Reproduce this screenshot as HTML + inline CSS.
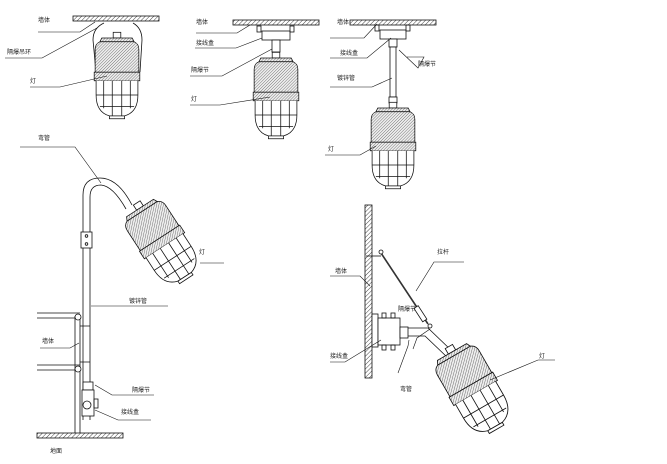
<!DOCTYPE html>
<html><head><meta charset="utf-8"><style>
html,body{margin:0;padding:0;background:#fff}
svg{display:block}
text{font-family:"Liberation Sans","Noto Sans CJK SC",sans-serif;font-size:6px;fill:#222}
</style></head><body>
<svg width="667" height="464" viewBox="0 0 667 464" xmlns="http://www.w3.org/2000/svg">
<defs>
<pattern id="h" width="3" height="3" patternUnits="userSpaceOnUse" patternTransform="rotate(45)">
<rect width="3" height="3" fill="#fff"/><line x1="0" y1="0" x2="0" y2="3" stroke="#444" stroke-width="1"/></pattern>
<pattern id="hd" width="2.2" height="2.2" patternUnits="userSpaceOnUse" patternTransform="rotate(45)">
<rect width="2.2" height="2.2" fill="#eee"/><line x1="0" y1="0" x2="0" y2="2.2" stroke="#555" stroke-width="0.8"/></pattern>
<g id="lamp" stroke="#111" stroke-width="0.8" fill="none">
<rect x="-4" y="-6" width="8" height="6" fill="#fff"/>
<path d="M-16,0 L16,0 L18,4 L-18,4 Z" fill="url(#hd)"/>
<path d="M-18,4 L18,4 Q23,6 23,12 L23,36 L-23,36 L-23,12 Q-23,6 -18,4 Z" fill="url(#hd)"/>
<rect x="-24" y="36" width="48" height="9" fill="url(#hd)"/>
<path d="M-22,45 L-22,60 Q-22,78 -8,82 L8,82 Q22,78 22,60 L22,45" fill="#fff"/>
<path d="M-14,45 L-14,74 M-5,45 L-5,82 M5,45 L5,82 M14,45 L14,74 M-22,60 L22,60 M-18,72 L18,72"/>
<rect x="-8" y="82" width="16" height="3" fill="#fff"/>
</g>
</defs>
<g stroke="#111" stroke-width="0.8" fill="none">
<rect x="73" y="16" width="86" height="5" fill="url(#h)"/>
<path d="M96,72 L93,40 Q93,28 104,23 M140,72 L142,40 Q142,28 133,23"/>
<use href="#lamp" transform="translate(117,38) scale(0.95)"/>
<rect x="233" y="20" width="86" height="5" fill="url(#h)"/>
<rect x="262" y="31" width="28" height="9" fill="#fff"/>
<rect x="257" y="26" width="4" height="6"/><rect x="290" y="26" width="4" height="6"/>
<rect x="272" y="40" width="8" height="12" fill="#fff"/>
<use href="#lamp" transform="translate(276,58) scale(0.95)"/>
<rect x="350" y="20" width="86" height="5" fill="url(#h)"/>
<rect x="380" y="30" width="26" height="9" fill="#fff"/>
<rect x="375" y="25" width="4" height="6"/><rect x="406" y="25" width="4" height="6"/>
<rect x="389" y="39" width="8" height="8" fill="#fff"/>
<rect x="390" y="47" width="6" height="50" fill="#fff"/>
<rect x="389" y="97" width="8" height="6" fill="#fff"/>
<use href="#lamp" transform="translate(393,108) scale(0.95)"/>
<path d="M83,420 L83,195 Q83,178 100,178 Q118,178 132,205 M90,420 L90,197 Q90,185 101,185 Q113,186 126,209"/>
<rect x="81" y="232" width="11" height="16" fill="#fff"/>
<circle cx="86.5" cy="236" r="1.3"/><circle cx="86.5" cy="244" r="1.3"/>
<use href="#lamp" transform="translate(140,208) rotate(-33)"/>
<rect x="37" y="433" width="86" height="5" fill="url(#h)"/>
<path d="M75,433 L75,316 M80,433 L80,316 M37,313 L80,313 M37,318 L80,318 M37,365 L80,365 M37,370 L80,370"/>
<circle cx="78" cy="317" r="3" fill="#fff"/><circle cx="78" cy="369" r="3" fill="#fff"/>
<path d="M80,326 L90,326 M80,362 L90,362"/>
<rect x="83" y="382" width="10" height="8" fill="#fff"/>
<rect x="82" y="390" width="12" height="26" fill="#fff"/>
<circle cx="87" cy="405" r="4"/>
<rect x="94" y="399" width="4" height="9"/>
<rect x="365" y="205" width="7" height="173" fill="url(#h)"/>
<rect x="372" y="314" width="6" height="33" fill="#fff"/>
<rect x="378" y="318" width="22" height="27" fill="#fff"/>
<rect x="382" y="313" width="4" height="5"/><rect x="391" y="313" width="4" height="5"/>
<rect x="382" y="345" width="4" height="5"/><rect x="391" y="345" width="4" height="5"/>
<rect x="400" y="327" width="8" height="11" fill="#fff"/>
<path d="M408,328 L428,328 L453,352 M408,336 L425,336 L448,358"/>
<path d="M366,256 L381,256"/>
<path d="M381,253 L428,324" stroke-width="1.6" stroke="#333"/>
<circle cx="381" cy="252" r="2" fill="#fff"/><circle cx="430" cy="326" r="2" fill="#fff"/>
<rect x="418" y="306" width="5" height="16" transform="rotate(-33 420 314)" fill="#fff"/>
<use href="#lamp" transform="translate(452,352) rotate(-30) scale(1.05)"/>
<g stroke-width="0.6">
<path d="M38,32 L80,32 L95,22 M5,58 L42,58 L97,28 M30,87 L60,87 L107,76"/>
<path d="M196,33 L237,33 L250,25 M195,48 L236,48 L262,38 M190,76 L222,76 L272,49 M190,105 L220,105 L270,97"/>
<path d="M330,38 L364,38 L377,24 M330,58 L367,58 L391,38 M407,57 L424,57 L418,68 L399,50 M330,87 L372,87 L392,78 M325,155 L360,155 L376,146"/>
<path d="M20,147 L75,147 L101,183 M200,263 L224,263 M91,306 L168,306 M40,348 L70,348 L79,343 M154,395 L112,395 L95,385 M151,420 L118,420 L95,410"/>
<path d="M330,276 L360,276 L370,286 M464,262 L434,262 L416,291 M330,362 L345,362 L381,340 M398,373 L408,346 L409,340 M413,349 L417,338 L430,329 M555,360 L538,360 L490,380"/>
</g>
</g>
<g>
<text x="38" y="22">墙体</text>
<text x="7" y="54">隔爆吊环</text>
<text x="30" y="83">灯</text>
<text x="196" y="24">墙体</text>
<text x="196" y="45">接线盒</text>
<text x="191" y="72">隔爆节</text>
<text x="191" y="101">灯</text>
<text x="337" y="24">墙体</text>
<text x="340" y="55">接线盒</text>
<text x="418" y="66">隔爆节</text>
<text x="337" y="80">镀锌管</text>
<text x="328" y="151">灯</text>
<text x="38" y="140">弯管</text>
<text x="199" y="254">灯</text>
<text x="129" y="303">镀锌管</text>
<text x="42" y="343">墙体</text>
<text x="132" y="392">隔爆节</text>
<text x="121" y="414">接线盒</text>
<text x="50" y="453">地面</text>
<text x="437" y="254">拉杆</text>
<text x="335" y="273">墙体</text>
<text x="398" y="311">隔爆节</text>
<text x="330" y="358">接线盒</text>
<text x="400" y="391">弯管</text>
<text x="539" y="358">灯</text>
</g>
</svg>
</body></html>
